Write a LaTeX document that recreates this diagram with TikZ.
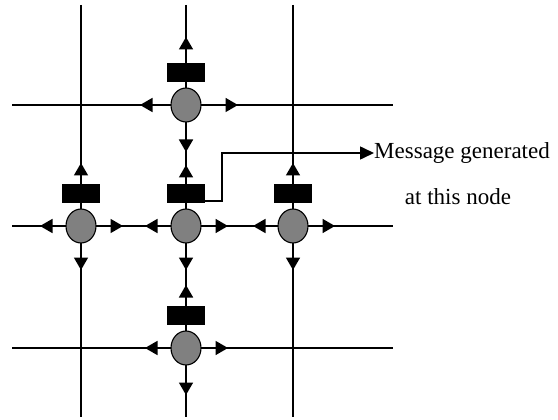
\documentclass[tikz,border=0pt]{standalone}
\usepackage{fontspec}
\setmainfont{Liberation Serif}
\usetikzlibrary{arrows.meta,shapes.geometric}
\definecolor{nodegray}{RGB}{128,128,128}
\tikzset{
  gridline/.style={line width=1.7pt, black},
  router/.style={ellipse, draw=black, line width=1.1pt, fill=nodegray, minimum width=30pt, minimum height=34pt, inner sep=0pt},
  buffer/.style={rectangle, fill=black, minimum width=38pt, minimum height=19pt, inner sep=0pt},
  tip/.style={-{Triangle[length=12.5pt,width=14pt]}, line width=1.7pt},
  msg/.style={line width=1.6pt, -{Triangle[length=14pt,width=13pt]}},
  label/.style={font=\fontsize{23}{26}\selectfont, inner sep=0pt}
}
\begin{document}
\begin{tikzpicture}[x=1pt,y=-1pt]
\useasboundingbox (0,0) rectangle (558,420);
% grid
\coordinate (v1t) at (81,5);   \coordinate (v1b) at (81,417);
\coordinate (v2t) at (186,5);  \coordinate (v2b) at (186,417);
\coordinate (v3t) at (293,5);  \coordinate (v3b) at (293,417);
\coordinate (h1l) at (12,105); \coordinate (h1r) at (393,105);
\coordinate (h2l) at (12,226); \coordinate (h2r) at (393,226);
\coordinate (h3l) at (12,348); \coordinate (h3r) at (393,348);
\draw[gridline] (v1t) -- (v1b);
\draw[gridline] (v2t) -- (v2b);
\draw[gridline] (v3t) -- (v3b);
\draw[gridline] (h1l) -- (h1r);
\draw[gridline] (h2l) -- (h2r);
\draw[gridline] (h3l) -- (h3r);
% arrowheads (drawn before nodes)
% top node (186,105)
\draw[tip] (186,50) -- (186,37);
\draw[tip] (153,105) -- (140,105);
\draw[tip] (225,105) -- (238,105);
\draw[tip] (186,140) -- (186,152);
% middle node (186,226)
\draw[tip] (186,178) -- (186,165);
\draw[tip] (158,226) -- (145,226);
\draw[tip] (215,226) -- (228,226);
\draw[tip] (186,258) -- (186,270);
% left node (81,226)
\draw[tip] (81,176) -- (81,163);
\draw[tip] (53,226) -- (40,226);
\draw[tip] (110,226) -- (123,226);
\draw[tip] (81,258) -- (81,270);
% right node (293,226)
\draw[tip] (293,176) -- (293,163);
\draw[tip] (266,226) -- (253,226);
\draw[tip] (322,226) -- (335,226);
\draw[tip] (293,258) -- (293,270);
% bottom node (186,348)
\draw[tip] (186,298) -- (186,285);
\draw[tip] (158,348) -- (145,348);
\draw[tip] (215,348) -- (228,348);
\draw[tip] (186,382) -- (186,395);
% routers and buffers
\node[router] (nt) at (186,105) {};
\node[buffer] (bt) at (186,72.5) {};
\node[router] (nm) at (186,226) {};
\node[buffer] (bm) at (186,193.5) {};
\node[router] (nl) at (81,226) {};
\node[buffer] (bl) at (81,193.5) {};
\node[router] (nr) at (293,226) {};
\node[buffer] (br) at (293,193.5) {};
\node[router] (nb) at (186,348) {};
\node[buffer] (bb) at (186,315) {};
% message label
\node[label, anchor=west] (m1) at (374,153) {Message generated};
\node[label] (m2) at (458,197) {at this node};
\coordinate (c0) at (205,201);
\coordinate (c1) at (222,201);
\coordinate (c2) at (222,153);
\draw[msg] (c0) -- (c1) -- (c2) -- (m1.west);
\end{tikzpicture}
\end{document}
